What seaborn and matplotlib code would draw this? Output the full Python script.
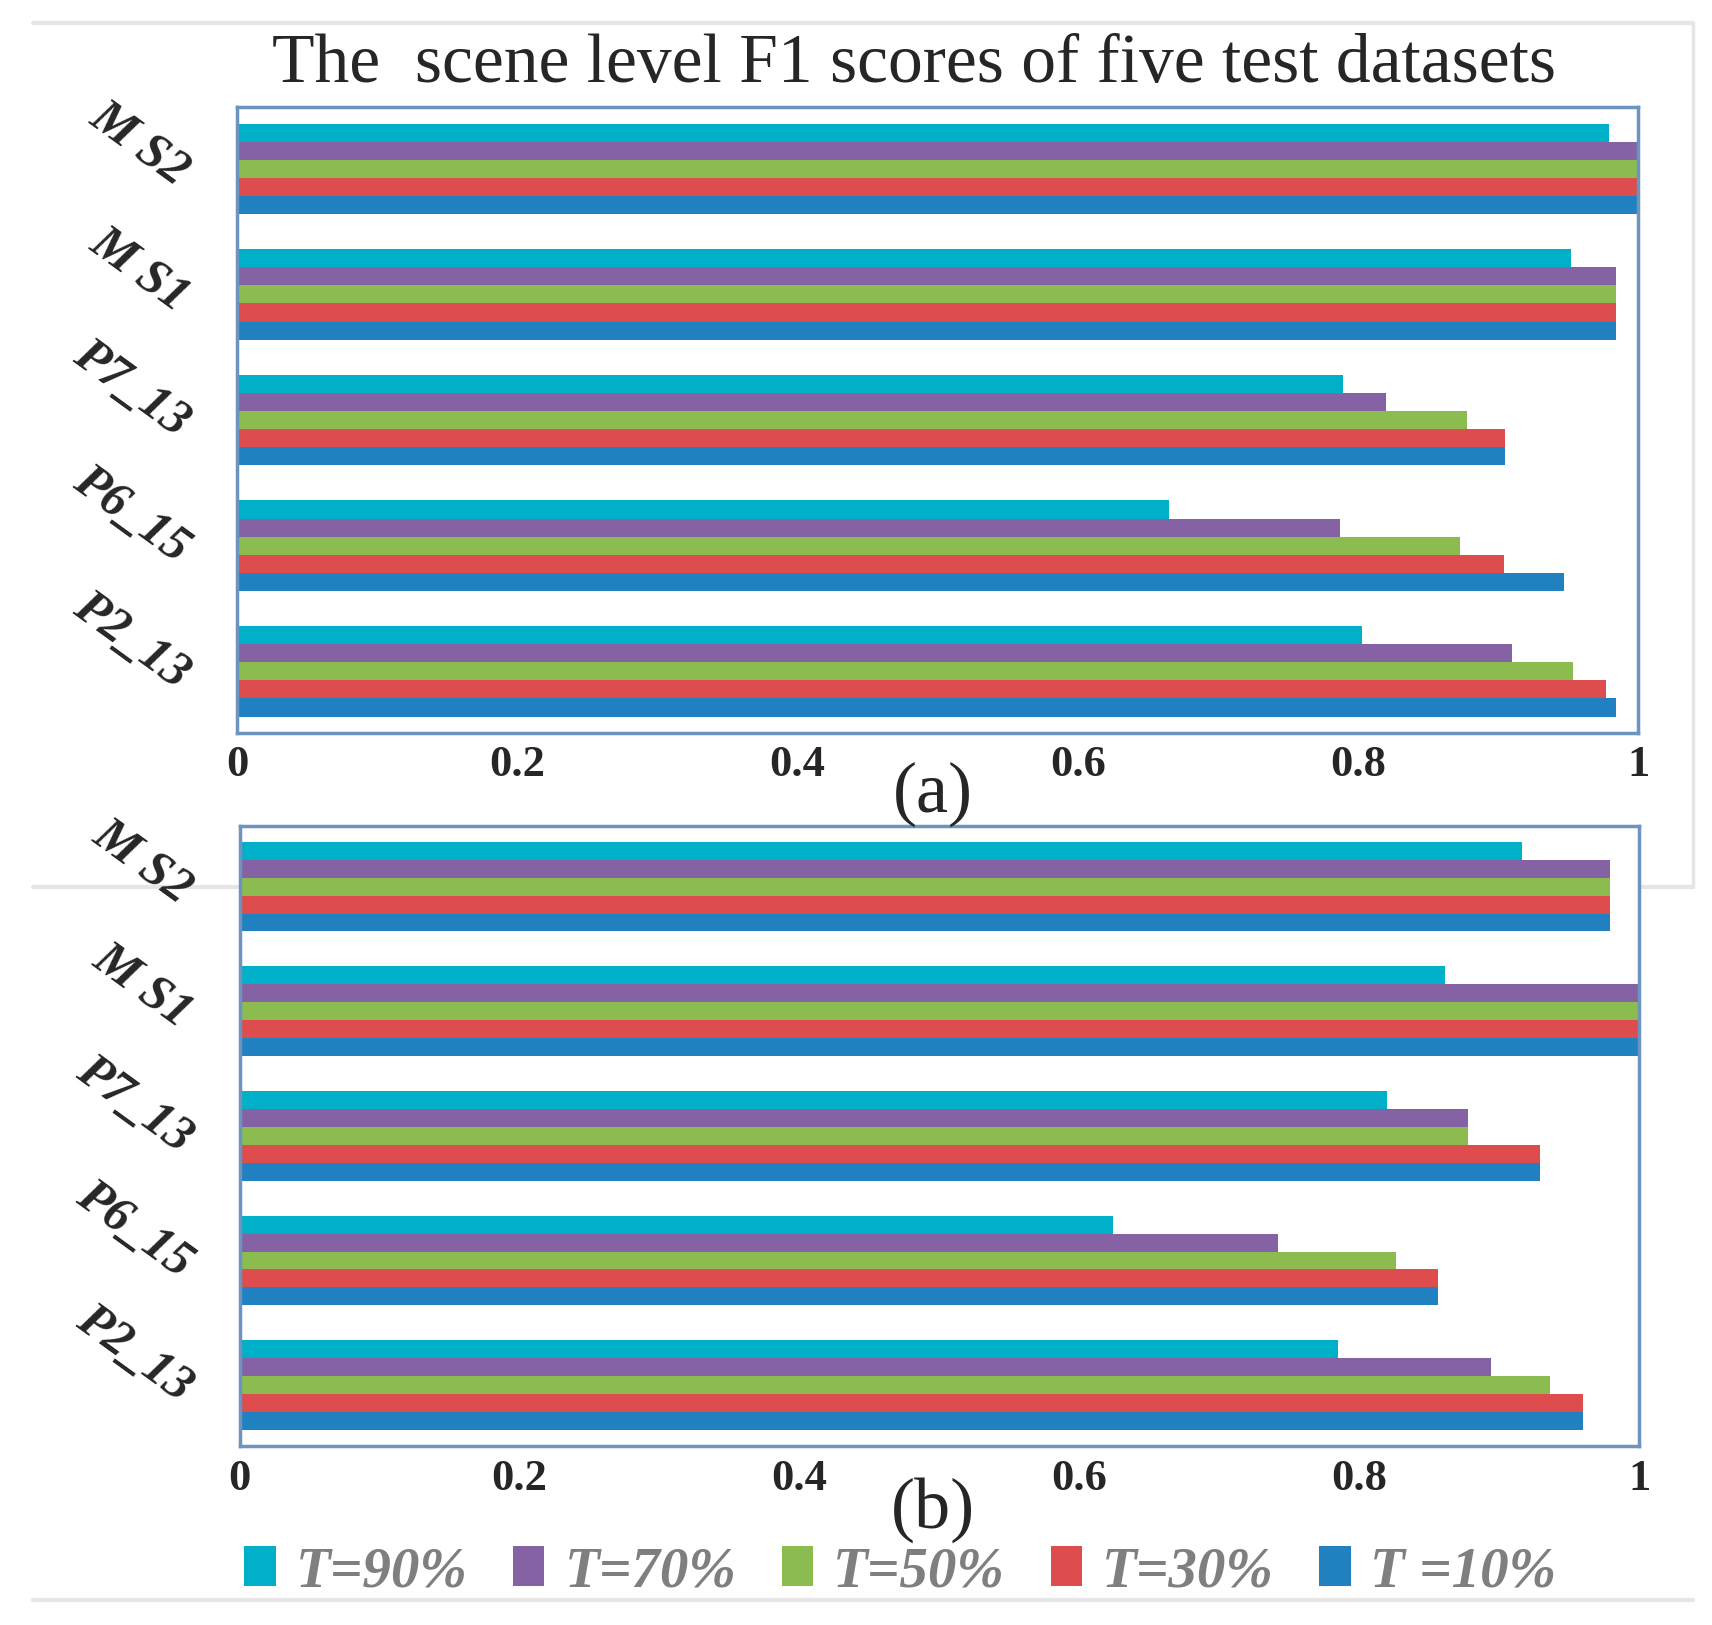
import matplotlib
matplotlib.use("Agg")
import matplotlib.pyplot as plt
import matplotlib.transforms as mtransforms
import seaborn as sns
import pandas as pd
from matplotlib.lines import Line2D
from matplotlib.patches import Patch

# ---- data ----
datasets = ["M S2", "M S1", "P7_13", "P6_15", "P2_13"]
thresholds = ["T=90%", "T=70%", "T=50%", "T=30%", "T =10%"]
colors = ["#00b0c8", "#8462a4", "#8cbb4f", "#dd4d4d", "#2080c0"]

# panel (a): one list per threshold, values in dataset order
a_t90 = [0.979, 0.952, 0.789, 0.665, 0.803]
a_t70 = [1.000, 0.984, 0.820, 0.787, 0.910]
a_t50 = [1.000, 0.984, 0.878, 0.873, 0.953]
a_t30 = [1.000, 0.984, 0.905, 0.904, 0.977]
a_t10 = [1.000, 0.984, 0.905, 0.947, 0.984]

# panel (b)
b_t90 = [0.916, 0.861, 0.820, 0.624, 0.785]
b_t70 = [0.979, 1.000, 0.878, 0.742, 0.894]
b_t50 = [0.979, 1.000, 0.878, 0.826, 0.936]
b_t30 = [0.979, 1.000, 0.929, 0.856, 0.960]
b_t10 = [0.979, 1.000, 0.929, 0.856, 0.960]

xticks = [0, 0.2, 0.4, 0.6, 0.8, 1.0]
xticklabels = ["0", "0.2", "0.4", "0.6", "0.8", "1"]
title = "The  scene level F1 scores of five test datasets"


def to_long(series):
    rows = []
    for t, vals in zip(thresholds, series):
        for d, v in zip(datasets, vals):
            rows.append({"dataset": d, "T": t, "F1": v})
    return pd.DataFrame(rows)


df_a = to_long([a_t90, a_t70, a_t50, a_t30, a_t10])
df_b = to_long([b_t90, b_t70, b_t50, b_t30, b_t10])

sns.set_theme(style="white")
plt.rcParams["font.family"] = ["Liberation Serif", "DejaVu Serif"]

fig = plt.figure(figsize=(17.12, 16.25), dpi=100)
fig.patch.set_facecolor("white")

# faint frame lines of the original picture
frame_col = "#e6e6e6"
for yy in [0.986, 0.454, 0.0154]:
    fig.add_artist(Line2D([0.019, 0.989], [yy, yy], transform=fig.transFigure,
                          color=frame_col, lw=3, zorder=0))
fig.add_artist(Line2D([0.989, 0.989], [0.454, 0.986], transform=fig.transFigure,
                      color=frame_col, lw=2.5, zorder=0))

border = "#6d93bf"
pal = dict(zip(thresholds, colors))

ax_a = fig.add_axes([0.1385, 0.549, 0.8185, 0.385])
ax_b = fig.add_axes([0.140, 0.110, 0.8175, 0.382])

for ax, df in [(ax_a, df_a), (ax_b, df_b)]:
    sns.barplot(data=df, y="dataset", x="F1", hue="T", order=datasets,
                hue_order=thresholds, palette=pal, orient="h", width=0.72,
                saturation=1, linewidth=0, ax=ax, legend=False)
    ax.set_xlim(0, 1)
    ax.set_ylim(4.49, -0.49)
    ax.set_xticks(xticks)
    ax.set_xticklabels(xticklabels, fontsize=32, fontweight="bold")
    ax.set_yticks(range(len(datasets)))
    ax.set_yticklabels([])
    ax.tick_params(axis="y", length=0)
    ax.tick_params(axis="x", length=0, pad=9)
    ax.set_xlabel("")
    ax.set_ylabel("")
    for s in ax.spines.values():
        s.set_visible(True)
        s.set_color(border)
        s.set_linewidth(2.5)
    ax.set_facecolor("white")
    # rotated category labels, anchored just left of the axes
    trans = mtransforms.blended_transform_factory(ax.transAxes, ax.transData)
    for i, name in enumerate(datasets):
        ax.text(-0.038, i + 0.06, name, transform=trans, fontsize=36,
                fontweight="bold", style="italic", rotation=-36,
                ha="right", va="center", rotation_mode="anchor",
                clip_on=False)

fig.text(0.534, 1 - 82 / 1625, title, ha="center", va="baseline", fontsize=50)
fig.text(0.545, 0.511, "(a)", ha="center", va="center", fontsize=52, zorder=5)
fig.text(0.545, 0.071, "(b)", ha="center", va="center", fontsize=52, zorder=5)

handles = [Patch(facecolor=c, edgecolor="none") for c in colors]
leg = fig.legend(handles, thresholds, loc="center", bbox_to_anchor=(0.526, 0.0325),
                 ncol=5, frameon=False, handlelength=0.55, handleheight=0.7,
                 handletextpad=0.35, columnspacing=0.8,
                 prop={"size": 41, "weight": "bold", "style": "italic"})
for t in leg.get_texts():
    t.set_color("#7f7f7f")

fig.savefig("out.png", dpi=100, facecolor="white")
